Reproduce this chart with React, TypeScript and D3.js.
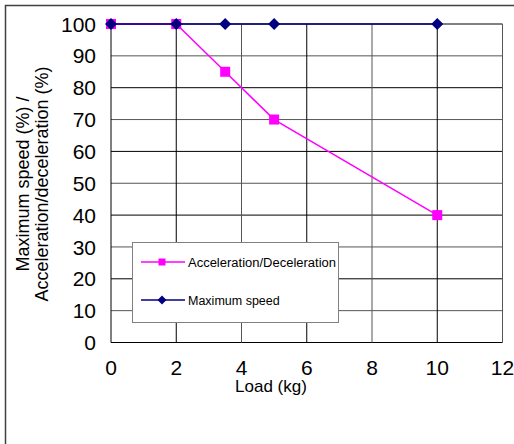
import React from "react";
import * as d3 from "d3";

const loads = [0, 2, 3.5, 5, 10];
const accelDecel = [100, 100, 85, 70, 40];
const maxSpeed = [100, 100, 100, 100, 100];
const xTicks = [0, 2, 4, 6, 8, 10, 12];
const yTicks = [0, 10, 20, 30, 40, 50, 60, 70, 80, 90, 100];

export default function App() {
  const W = 514, H = 444;
  const left = 111, right = 502.5, top = 24, bottom = 342.5;
  const x = d3.scaleLinear().domain([0, 12]).range([left, right]);
  const y = d3.scaleLinear().domain([0, 100]).range([bottom, top]);
  const line = d3.line<number>().x((_, i) => x(loads[i])).y((d) => y(d));
  const font = "Arial, 'Liberation Sans', sans-serif";
  return (
    <svg width={W} height={H} style={{ position: "absolute", left: 0, top: 0, background: "#fff" }}>
      <rect x={5.5} y={5.5} width={W + 10} height={H + 10} fill="#fff" stroke="#404040" strokeWidth={1.5} />
      {yTicks.map((t) => (
        <line key={"h" + t} x1={left} x2={right} y1={y(t)} y2={y(t)} stroke={t % 20 === 0 ? "#000" : "#555"} strokeWidth={1} />
      ))}
      {xTicks.map((t) => (
        <line key={"v" + t} x1={x(t)} x2={x(t)} y1={top} y2={bottom} stroke={t % 4 === 0 && t !== 0 ? "#555" : "#000"} strokeWidth={1} />
      ))}
      {yTicks.map((t) => (
        <text key={"yl" + t} x={96} y={y(t)} dy="0.36em" textAnchor="end" fontFamily={font} fontSize={21} fill="#000">
          {t}
        </text>
      ))}
      {xTicks.map((t) => (
        <text key={"xl" + t} x={x(t)} y={375} textAnchor="middle" fontFamily={font} fontSize={21} fill="#000">
          {t}
        </text>
      ))}
      <text x={271} y={392} textAnchor="middle" fontFamily={font} fontSize={17} fill="#000">Load (kg)</text>
      <g transform="translate(0,184) rotate(-90)">
        <text x={0} y={29} textAnchor="middle" fontFamily={font} fontSize={18} fill="#000">Maximum speed (%) /</text>
        <text x={0} y={48} textAnchor="middle" fontFamily={font} fontSize={18} fill="#000">Acceleration/deceleration (%)</text>
      </g>
      <path d={line(accelDecel) || ""} fill="none" stroke="#ff00ff" strokeWidth={1.5} />
      {accelDecel.map((v, i) => (
        <rect key={"a" + i} x={x(loads[i]) - 5} y={y(v) - 5} width={10} height={10} fill="#ff00ff" />
      ))}
      <path d={line(maxSpeed) || ""} fill="none" stroke="#000080" strokeWidth={1.5} />
      {maxSpeed.map((v, i) => (
        <path key={"m" + i} d={`M${x(loads[i])},${y(v) - 6}L${x(loads[i]) + 6},${y(v)}L${x(loads[i])},${y(v) + 6}L${x(loads[i]) - 6},${y(v)}Z`} fill="#000080" />
      ))}
      <g>
        <rect x={132.5} y={242.5} width={206} height={80} fill="#fff" stroke="#808080" strokeWidth={1} />
        <line x1={141} x2={185} y1={262} y2={262} stroke="#ff00ff" strokeWidth={1.5} />
        <rect x={158.5} y={258.5} width={7} height={7} fill="#ff00ff" />
        <text x={188} y={262} dy="0.36em" fontFamily={font} fontSize={12.5} fill="#000" textLength={148} lengthAdjust="spacingAndGlyphs">Acceleration/Deceleration</text>
        <line x1={141} x2={185} y1={300} y2={300} stroke="#000080" strokeWidth={1.5} />
        <path d="M162,295.5L166.5,300L162,304.5L157.5,300Z" fill="#000080" />
        <text x={188} y={300} dy="0.36em" fontFamily={font} fontSize={12.5} fill="#000">Maximum speed</text>
      </g>
    </svg>
  );
}
